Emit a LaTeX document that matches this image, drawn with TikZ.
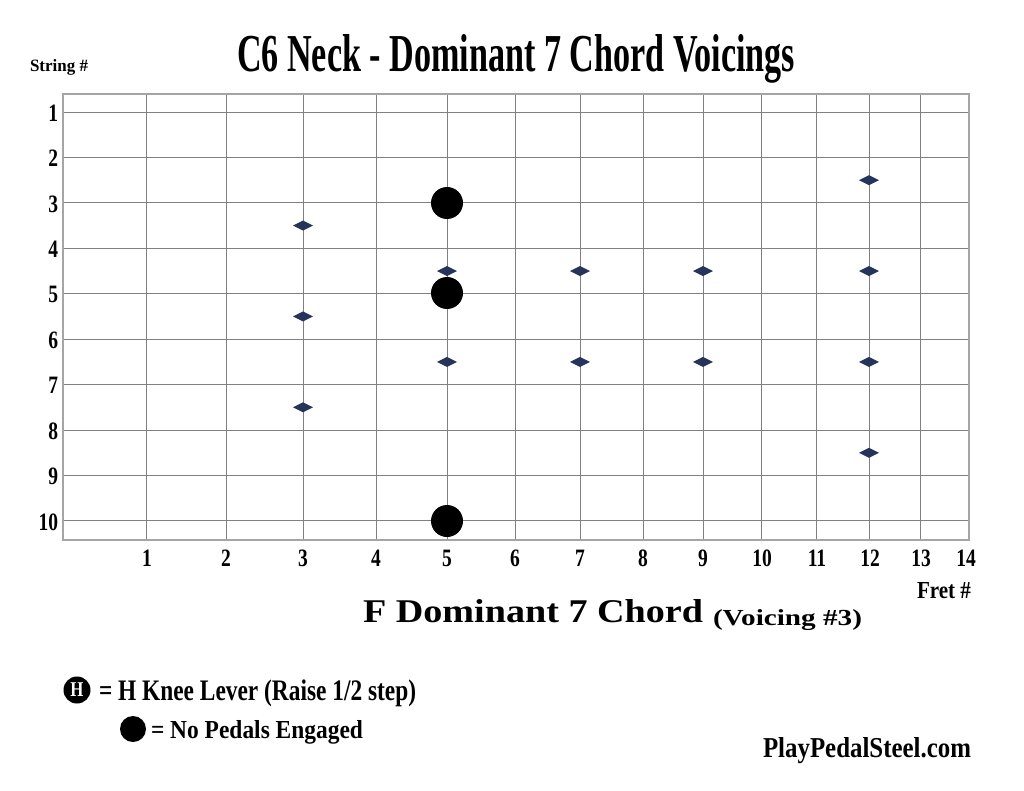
\documentclass[tikz,border=0pt]{standalone}
\usepackage{fontspec}
\setmainfont{Liberation Serif}
\usepackage{graphicx}
\definecolor{navy}{RGB}{38,52,92}
\definecolor{gridc}{RGB}{128,128,128}
\definecolor{borderc}{RGB}{165,165,165}
\newcommand\fitw[3]{\resizebox{#1}{#2}{\bfseries #3}}
\newcommand\fitt[3]{\resizebox*{#1}{#2}{\bfseries #3}}
\newcommand\cnum[1]{\scalebox{0.78}[1]{\fontsize{25}{25}\selectfont\bfseries #1}}
\begin{document}
\begin{tikzpicture}[x=1pt,y=-1pt,
  lbl/.style={inner sep=0pt, outer sep=0pt},
  gridline/.style={draw=gridc, line width=0.95pt},
  bigdot/.style={circle, fill=black, minimum size=32pt, inner sep=0pt}]
\useasboundingbox (0,0) rectangle (1024,791);
\fill[white] (0,0) rectangle (1024,791);
% title
\node[lbl, anchor=base west] (title) at (237,72) {\fitw{558pt}{37pt}{C6 Neck - Dominant 7 Chord Voicings}};
\node[lbl, anchor=base west] (stringlbl) at (30,72) {\fitw{58pt}{12pt}{String \#}};
% grid
\foreach \s in {1,...,10} {
  \pgfmathsetmacro\yy{112+(\s-1)*45.44}
  \draw[gridline] (63,\yy) -- (969,\yy);
  \node[lbl, anchor=east] (s\s) at (58,\yy+1) {\cnum{\s}};
}
\foreach \f/\x in {1/146,2/226,3/303,4/376,5/447,6/515,7/580,8/643,9/703,10/761,11/816,12/869,13/920} {
  \draw[gridline] (\x,94) -- (\x,540);
}
\draw[draw=borderc, line width=1.3pt] (63,94) rectangle (969,540);
\foreach \f/\x in {1/147,2/226,3/303,4/376,5/447,6/515,7/580,8/643,9/703,10/762,11/817,12/870,13/921,14/966} {
  \node[lbl] (f\f) at (\x,558) {\cnum{\f}};
}
\node[lbl, anchor=base east] (fretlbl) at (971,598) {\fitw{54pt}{16pt}{Fret \#}};
% diamonds
\foreach \x/\s [count=\i] in {303/3.5,303/5.5,303/7.5,447/4.5,447/6.5,580/4.5,580/6.5,703/4.5,703/6.5,869/2.5,869/4.5,869/6.5,869/8.5} {
  \pgfmathsetmacro\yy{112+(\s-1)*45.44}
  \fill[navy] (\x-10,\yy) -- (\x,\yy-5) -- (\x+10,\yy) -- (\x,\yy+5) -- cycle;
}
% big dots
\node[bigdot] (d3) at (447,203) {};
\node[bigdot] (d5) at (447,293) {};
\node[bigdot] (d10) at (447,521) {};
% subtitle
\node[lbl, anchor=base west] (sub) at (363,622) {\fitw{340pt}{23pt}{F Dominant 7 Chord}};
\node[lbl, anchor=south west] (voicing) at (713,631) {\fitt{149pt}{21pt}{(Voicing \#3)}};
% legend
\node[circle, fill=black, minimum size=27pt, inner sep=0pt] (hcirc) at (77,690) {\textcolor{white}{\scalebox{0.8}[1]{\fontsize{21}{21}\selectfont\bfseries H}}};
\node[lbl, anchor=south west] (leg1) at (99,707) {\fitt{317pt}{27pt}{= H Knee Lever (Raise 1/2 step)}};
\node[circle, fill=black, minimum size=26pt, inner sep=0pt] (lcirc) at (133,729) {};
\node[lbl, anchor=base west] (leg2) at (151,738) {\fitw{212pt}{18pt}{= No Pedals Engaged}};
% url
\node[lbl, anchor=base west] (url) at (763,757) {\fitw{208pt}{20pt}{PlayPedalSteel.com}};
\end{tikzpicture}
\end{document}
